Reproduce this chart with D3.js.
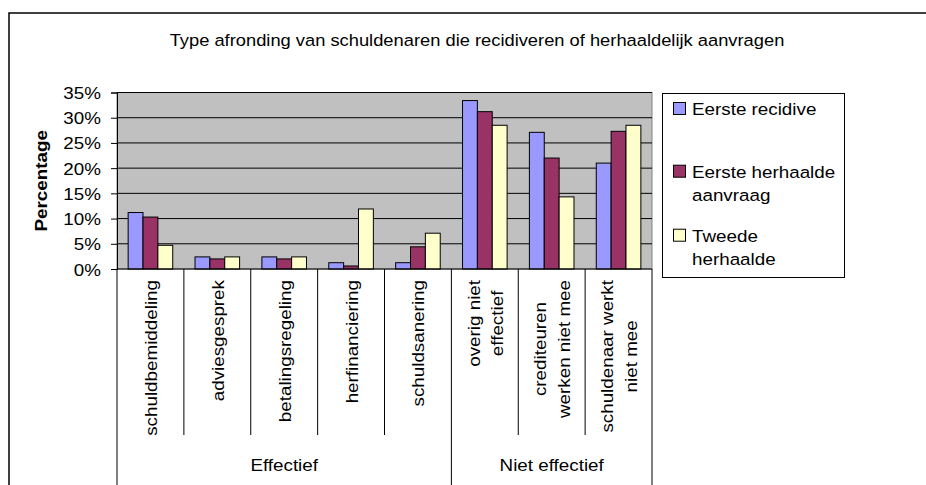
<!DOCTYPE html>
<meta charset="utf-8">
<style>
body { margin: 0; background: #fff; overflow: hidden; }
svg { display: block; }
svg text { font-family: "Liberation Sans", Arial, sans-serif; fill: #000; }
</style>
<body>
<script src="https://d3js.org/d3.v7.min.js"></script>
<div id="draw"></div>
<script>

var title = "Type afronding van schuldenaren die recidiveren of herhaaldelijk aanvragen";
var yTitle = "Percentage";

// category labels, one entry per line of the wrapped label
var categories = ["schuldbemiddeling", "adviesgesprek", "betalingsregeling", "herfinanciering",
                  "schuldsanering", "overig niet effectief", "crediteuren werken niet mee",
                  "schuldenaar werkt niet mee"];
var categoryLines = [["schuldbemiddeling"], ["adviesgesprek"], ["betalingsregeling"], ["herfinanciering"],
                     ["schuldsanering"], ["overig niet", "effectief"], ["crediteuren", "werken niet mee"],
                     ["schuldenaar werkt", "niet mee"]];
var groupNames = ["Effectief", "Niet effectief"];
var groupSizes = [5, 3];

var seriesNames = ["Eerste recidive", "Eerste herhaalde aanvraag", "Tweede herhaalde"];
var legendLines = [["Eerste recidive"], ["Eerste herhaalde", "aanvraag"], ["Tweede", "herhaalde"]];
var eersteRecidive  = [11.2, 2.4, 2.4, 1.25, 1.25, 33.4, 27.1, 21.0];
var eersteHerhaalde = [10.3, 2.0, 2.0, 0.6, 4.4, 31.2, 22.0, 27.3];
var tweedeHerhaalde = [4.7, 2.4, 2.4, 11.9, 7.1, 28.5, 14.3, 28.5];
var yTicks = [0, 5, 10, 15, 20, 25, 30, 35];

var seriesValues = [eersteRecidive, eersteHerhaalde, tweedeHerhaalde];
var colors = ["#9999FF", "#993366", "#FFFFCC"];

var W = 926, H = 485;
var plot = {left: 117, right: 652, top: 92.5, bottom: 269};
var fs = "16.5px";
var stretch = 1.14;   // the old chart font runs wider than Arial

var svg = d3.select("#draw").append("svg")
    .attr("width", W)
    .attr("height", H);

// outer chart border, only left and top edges are inside the window
svg.append("path")
    .attr("d", "M9," + (H + 5) + "V13H" + (W + 5))
    .attr("fill", "none")
    .attr("stroke", "#000")
    .attr("stroke-width", 1.5);

svg.append("text")
    .attr("transform", "translate(477,46) scale(1.11,1)")
    .attr("text-anchor", "middle")
    .style("font-size", fs)
    .text(title);

var x = d3.scaleBand()
    .domain(categories)
    .range([plot.left, plot.right]);

var xSub = d3.scaleBand()
    .domain(seriesNames)
    .range([0, x.bandwidth()])
    .paddingInner(0)
    .paddingOuter(0.75);

var y = d3.scaleLinear()
    .domain([0, 35])
    .range([plot.bottom, plot.top]);

// plot background
svg.append("rect")
    .attr("x", plot.left).attr("y", plot.top)
    .attr("width", plot.right - plot.left)
    .attr("height", plot.bottom - plot.top)
    .attr("fill", "#C0C0C0")
    .attr("stroke", "#808080")
    .attr("stroke-width", 1);

// gridlines
svg.selectAll(".grid")
    .data(yTicks.slice(1))
  .enter().append("line")
    .attr("class", "grid")
    .attr("x1", plot.left).attr("x2", plot.right)
    .attr("y1", function(d) { return y(d); })
    .attr("y2", function(d) { return y(d); })
    .attr("stroke", "#000")
    .attr("stroke-width", 1);

// y axis
var yAxis = svg.append("g")
    .attr("transform", "translate(" + plot.left + ",0)")
    .call(d3.axisLeft(y).tickValues(yTicks).tickSize(6).tickPadding(10)
      .tickFormat(function(d) { return d + "%"; }));
yAxis.select(".domain").attr("stroke", "#000");
yAxis.selectAll(".tick line").attr("stroke", "#000");
yAxis.selectAll(".tick text")
    .attr("x", null).attr("dy", null)
    .attr("transform", "translate(-16,6) scale(" + stretch + ",1)")
    .style("font-size", fs)
    .style("font-family", "Liberation Sans, Arial, sans-serif");

svg.append("text")
    .attr("transform", "translate(47," + ((plot.top + plot.bottom) / 2) + ") rotate(-90) scale(" + stretch + ",1)")
    .attr("text-anchor", "middle")
    .style("font-size", fs)
    .style("font-weight", "bold")
    .text(yTitle);

// bars
var bars = svg.append("g");
seriesValues.forEach(function(vals, s) {
  bars.selectAll(".bar-" + s)
      .data(vals)
    .enter().append("rect")
      .attr("class", "bar-" + s)
      .attr("x", function(d, i) { return x(categories[i]) + xSub(seriesNames[s]); })
      .attr("width", xSub.bandwidth())
      .attr("y", function(d) { return y(d); })
      .attr("height", function(d) { return y(0) - y(d); })
      .attr("fill", colors[s])
      .attr("stroke", "#000")
      .attr("stroke-width", 1);
});

// category axis
svg.append("line")
    .attr("x1", plot.left).attr("x2", plot.right)
    .attr("y1", plot.bottom).attr("y2", plot.bottom)
    .attr("stroke", "#000");

var bounds = categories.map(function(c) { return x(c); }).concat([plot.right]);
var groupEdges = [0];
groupSizes.forEach(function(n, i) { groupEdges.push(groupEdges[i] + n); });

svg.selectAll(".ctick")
    .data(bounds)
  .enter().append("line")
    .attr("class", "ctick")
    .attr("x1", function(d) { return d; })
    .attr("x2", function(d) { return d; })
    .attr("y1", plot.bottom)
    .attr("y2", function(d, i) { return groupEdges.indexOf(i) >= 0 ? H : 435; })
    .attr("stroke", "#000");

// rotated category labels, top-anchored, lines centred on each other
categoryLines.forEach(function(lines, i) {
  var cx = x(categories[i]) + x.bandwidth() / 2;
  var g = svg.append("g");
  var txt = lines.map(function(line, k) {
    var off = (k - (lines.length - 1) / 2) * 23.5 + 6.5;
    return g.append("text")
        .attr("text-anchor", "middle")
        .style("font-size", fs)
        .attr("data-off", off)
        .text(line);
  });
  var maxLen = d3.max(txt, function(t) { return t.node().getComputedTextLength(); }) * stretch;
  txt.forEach(function(t) {
    var off = +t.attr("data-off");
    t.attr("transform", "translate(" + (cx + off) + "," + (280 + maxLen / 2) + ") rotate(-90) scale(" + stretch + ",1)");
  });
});

// group labels
groupNames.forEach(function(name, i) {
  var x0 = bounds[groupEdges[i]], x1 = bounds[groupEdges[i + 1]];
  svg.append("text")
      .attr("transform", "translate(" + ((x0 + x1) / 2) + ",471) scale(" + stretch + ",1)")
      .attr("text-anchor", "middle")
      .style("font-size", fs)
      .text(name);
});

// legend
var legend = svg.append("g");
legend.append("rect")
    .attr("x", 662.5).attr("y", 93.5)
    .attr("width", 182).attr("height", 184)
    .attr("fill", "#fff")
    .attr("stroke", "#000")
    .attr("stroke-width", 1);

var legendBase = [115, 177.7, 241.7];
legendLines.forEach(function(lines, s) {
  legend.append("rect")
      .attr("x", 673.5).attr("y", legendBase[s] - 12.5)
      .attr("width", 12).attr("height", 12)
      .attr("fill", colors[s])
      .attr("stroke", "#000")
      .attr("stroke-width", 1);
  lines.forEach(function(line, k) {
    legend.append("text")
        .attr("transform", "translate(692," + (legendBase[s] + k * 23) + ") scale(" + stretch + ",1)")
        .style("font-size", fs)
        .text(line);
  });
});

</script>
